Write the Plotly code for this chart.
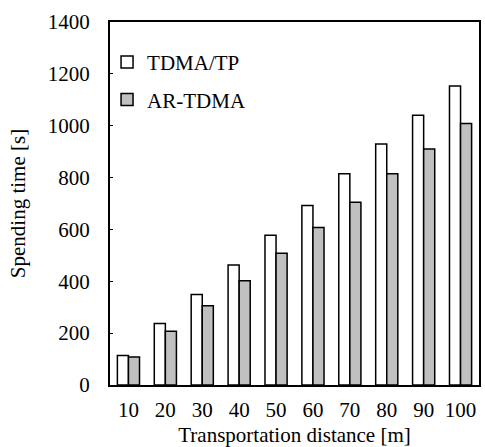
import plotly.graph_objects as go

categories = ["10", "20", "30", "40", "50", "60", "70", "80", "90", "100"]
tdma_tp = [114, 237, 349, 463, 578, 692, 815, 929, 1040, 1153]
ar_tdma = [108, 207, 306, 402, 508, 607, 705, 815, 910, 1009]
y_ticks = [0, 200, 400, 600, 800, 1000, 1200, 1400]

FONT = '"Liberation Serif", "Times New Roman", serif'
FS = 21

fig = go.Figure()
fig.add_trace(go.Bar(
    x=categories, y=tdma_tp, name="TDMA/TP",
    marker=dict(color="white", line=dict(color="black", width=1.5)),
    legendgroup="a",
))
fig.add_trace(go.Bar(
    x=categories, y=ar_tdma, name="AR-TDMA",
    marker=dict(color="#c0c0c0", line=dict(color="black", width=1.5)),
    legendgroup="b",
))

fig.update_layout(
    width=485, height=447,
    margin=dict(l=110, r=4, t=22, b=56),
    paper_bgcolor="white", plot_bgcolor="white",
    font=dict(family=FONT, size=FS, color="black"),
    barmode="group", bargap=0.4, bargroupgap=0,
    showlegend=True,
    legend=dict(
        x=-0.008, xanchor="left", y=0.945, yanchor="top",
        bgcolor="rgba(0,0,0,0)", font=dict(family=FONT, size=FS),
        tracegroupgap=7, traceorder="grouped",
    ),
    xaxis=dict(
        type="category",
        showline=True, linecolor="black", linewidth=2, mirror=True,
        ticks="", showgrid=False,
        ticklabelstandoff=5,
        title=dict(text="Transportation distance [m]", standoff=6,
                   font=dict(family=FONT, size=FS)),
    ),
    yaxis=dict(
        range=[0, 1400], tickvals=y_ticks,
        showline=True, linecolor="black", linewidth=2, mirror=True,
        ticks="inside", ticklen=3, tickcolor="black", tickwidth=1,
        showgrid=False, zeroline=False,
        ticklabelstandoff=14,
        title=dict(text="Spending time [s]", standoff=16,
                   font=dict(family=FONT, size=FS)),
    ),
)

fig.write_html("out.html", config={"displayModeBar": False},
               post_script="document.body.style.margin='0';")
